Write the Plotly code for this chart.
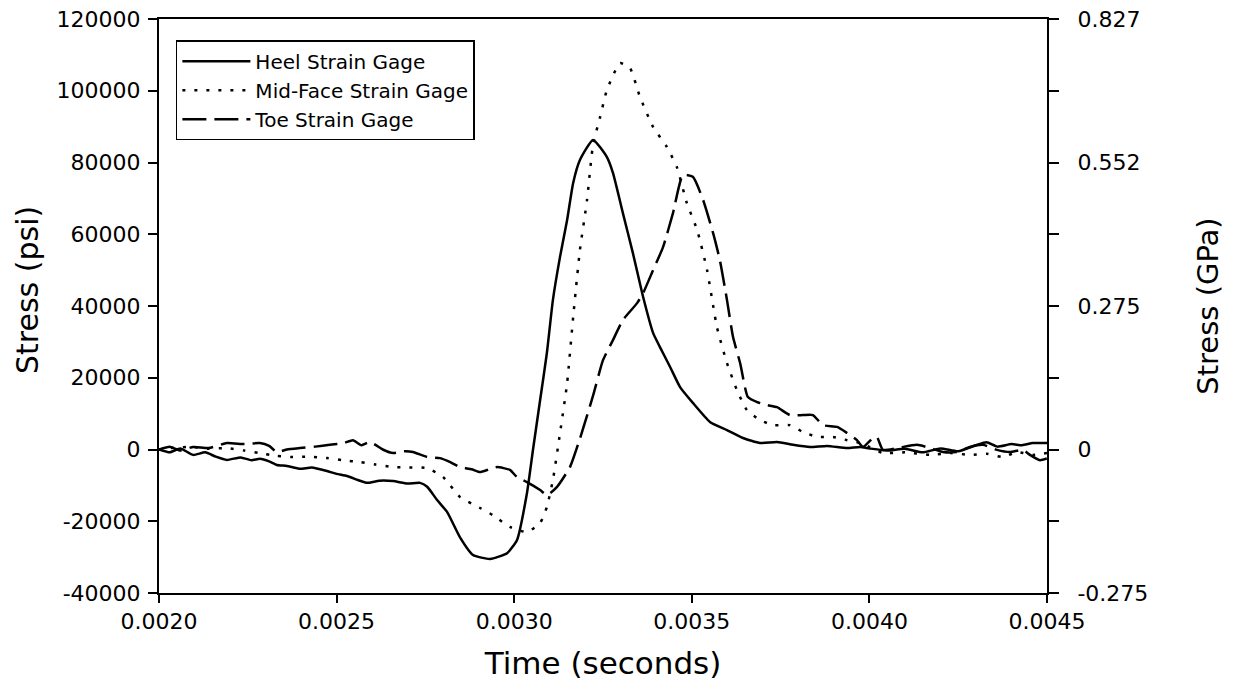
import plotly.graph_objects as go

# ---------------- data (time in seconds, stress in psi) ----------------
heel_t = [0.002000, 0.002030, 0.002060, 0.002096, 0.002130, 0.002160, 0.002191, 0.002230,
          0.002260, 0.002284, 0.002310, 0.002332, 0.002360, 0.002397, 0.002430, 0.002473,
          0.002500, 0.002529, 0.002560, 0.002586, 0.002620, 0.002659, 0.002700, 0.002735,
          0.002755, 0.002783, 0.002811, 0.002847, 0.002884, 0.002932, 0.002980, 0.003008,
          0.003036, 0.003053, 0.003073, 0.003092, 0.003109, 0.003129, 0.003149, 0.003166,
          0.003185, 0.003222, 0.003261, 0.003278, 0.003306, 0.003334, 0.003363, 0.003391,
          0.003410, 0.003439, 0.003467, 0.003503, 0.003551, 0.003599, 0.003644, 0.003692,
          0.003740, 0.003785, 0.003833, 0.003881, 0.003937, 0.003974, 0.004000, 0.004050,
          0.004100, 0.004150, 0.004200, 0.004250, 0.004300, 0.004330, 0.004360, 0.004400,
          0.004430, 0.004460, 0.004500]
heel_psi = [0, -800, 300, -1500, -800, -2000, -2900, -2200,
            -3000, -2600, -3300, -4300, -4600, -5400, -5000, -6000,
            -6800, -7400, -8500, -9300, -8700, -8800, -9500, -9300,
            -10400, -14100, -17400, -24400, -29400, -30500, -28900, -25200,
            -12100, 0, 13800, 26900, 41700, 53700, 64000, 74300,
            80700, 86300, 81500, 77100, 65900, 54800, 42500, 32500,
            28600, 23000, 17400, 13000, 7700, 5400, 3200, 1800,
            2100, 1300, 700, 1000, 400, 700, 300, -300,
            200, -800, 300, -500, 1200, 2000, 800, 1500,
            1200, 1800, 1800]

mid_t = [0.002000, 0.002040, 0.002096, 0.002140, 0.002191, 0.002240, 0.002284, 0.002330,
         0.002377, 0.002420, 0.002473, 0.002520, 0.002566, 0.002610, 0.002659, 0.002700,
         0.002755, 0.002800, 0.002847, 0.002904, 0.002940, 0.002988, 0.003036, 0.003073,
         0.003092, 0.003109, 0.003129, 0.003149, 0.003166, 0.003185, 0.003205, 0.003222,
         0.003242, 0.003261, 0.003298, 0.003326, 0.003354, 0.003391, 0.003430, 0.003458,
         0.003486, 0.003515, 0.003543, 0.003571, 0.003599, 0.003627, 0.003655, 0.003692,
         0.003729, 0.003776, 0.003813, 0.003852, 0.003898, 0.003937, 0.003974, 0.004000,
         0.004038, 0.004100, 0.004171, 0.004230, 0.004283, 0.004330, 0.004376, 0.004416,
         0.004460, 0.004500]
mid_psi = [0, 500, 700, 200, 400, -300, -1000, -1800,
           -2100, -2000, -2400, -3000, -3500, -4200, -4900, -5000,
           -5200, -7700, -13200, -16300, -18300, -21600, -23000, -20500,
           -16000, -8500, 4600, 18500, 36900, 55600, 69500, 85000,
           92700, 100200, 107700, 106300, 98300, 89900, 84300, 78700,
           68700, 61200, 50000, 34000, 24100, 16600, 11000, 8200,
           6800, 6800, 4900, 3500, 3500, 2600, 1800, 700,
           -1000, -800, -1500, -1000, -1500, -1200, -2100, -700,
           -1500, -1000]

toe_t = [0.002000, 0.002030, 0.002060, 0.002096, 0.002140, 0.002191, 0.002240, 0.002284,
         0.002310, 0.002332, 0.002360, 0.002397, 0.002440, 0.002481, 0.002520, 0.002546,
         0.002570, 0.002594, 0.002630, 0.002659, 0.002690, 0.002715, 0.002755, 0.002791,
         0.002820, 0.002847, 0.002880, 0.002904, 0.002930, 0.002952, 0.002988, 0.003008,
         0.003036, 0.003073, 0.003092, 0.003120, 0.003157, 0.003185, 0.003222, 0.003250,
         0.003278, 0.003306, 0.003346, 0.003363, 0.003391, 0.003419, 0.003447, 0.003475,
         0.003503, 0.003532, 0.003560, 0.003579, 0.003599, 0.003616, 0.003636, 0.003658,
         0.003684, 0.003712, 0.003740, 0.003776, 0.003813, 0.003841, 0.003869, 0.003909,
         0.003937, 0.003965, 0.003982, 0.004010, 0.004021, 0.004038, 0.004078, 0.004134,
         0.004171, 0.004207, 0.004247, 0.004283, 0.004320, 0.004359, 0.004396, 0.004432,
         0.004452, 0.004480, 0.004500]
toe_psi = [0, 800, -300, 700, 400, 1800, 1500, 1800,
           1000, -700, 0, 400, 800, 1300, 1800, 2600,
           1200, 2100, 0, -1000, -500, -700, -2100, -2400,
           -3500, -4900, -5500, -6300, -5500, -4900, -5700, -7700,
           -9100, -11300, -12700, -10500, -4900, 3000, 15000, 24900,
           30500, 36100, 40800, 43600, 50000, 56400, 65900, 76500,
           76000, 69500, 60300, 52800, 41700, 31400, 24100, 14600,
           13200, 12400, 11800, 9600, 9600, 9600, 6800, 6300,
           4600, 2600, 700, 3200, 3500, -100, 400, 1300,
           400, -700, -700, 700, 1300, -100, -700, -100,
           -1500, -3000, -2500]

series_names = ["Heel Strain Gage", "Mid-Face Strain Gage", "Toe Strain Gage"]

x_ticks = [0.0020, 0.0025, 0.0030, 0.0035, 0.0040, 0.0045]
x_tick_labels = ["0.0020", "0.0025", "0.0030", "0.0035", "0.0040", "0.0045"]
psi_ticks = [-40000, -20000, 0, 20000, 40000, 60000, 80000, 100000, 120000]
psi_tick_labels = ["-40000", "-20000", "0", "20000", "40000", "60000", "80000", "100000", "120000"]
gpa_tick_labels = ["-0.275", "", "0", "", "0.275", "", "0.552", "", "0.827"]

# ---------------- figure ----------------
FONT = "DejaVu Sans"
LINE = dict(shape="spline", smoothing=0.5)
fig = go.Figure()
fig.add_trace(go.Scatter(x=heel_t, y=heel_psi, mode="lines", name=series_names[0],
                         line=dict(color="black", width=2.5, **LINE)))
fig.add_trace(go.Scatter(x=mid_t, y=mid_psi, mode="lines", name=series_names[1],
                         line=dict(color="black", width=2.5, dash="3px,9px", **LINE)))
fig.add_trace(go.Scatter(x=toe_t, y=toe_psi, mode="lines", name=series_names[2],
                         line=dict(color="black", width=2.5, dash="24px,8px", **LINE)))
# invisible trace to anchor the right-hand (GPa) axis
fig.add_trace(go.Scatter(x=heel_t, y=heel_psi, mode="lines", yaxis="y2", showlegend=False,
                         hoverinfo="skip", line=dict(color="rgba(0,0,0,0)", width=0)))

fig.update_layout(
    width=1234, height=682,
    margin=dict(l=159, r=187, t=19, b=89, autoexpand=False),
    paper_bgcolor="white", plot_bgcolor="white",
    font=dict(family=FONT, color="black", size=22),
    legend=dict(x=0.019, y=0.963, xanchor="left", yanchor="top",
                bordercolor="black", borderwidth=1.5, bgcolor="white",
                font=dict(family=FONT, size=20, color="black"),
                itemwidth=68, tracegroupgap=0),
    xaxis=dict(range=[0.0020, 0.0045], tickvals=x_ticks, ticktext=x_tick_labels,
               ticks="outside", ticklen=8, tickwidth=2, tickcolor="black",
               showline=True, linewidth=2, linecolor="black", mirror=True,
               showgrid=False, zeroline=False, automargin=False,
               tickfont=dict(size=22),
               title=dict(text="Time (seconds)", font=dict(size=31), standoff=19)),
    yaxis=dict(range=[-40000, 120000], tickvals=psi_ticks, ticktext=psi_tick_labels,
               ticks="outside", ticklen=9, tickwidth=2, tickcolor="black",
               showline=True, linewidth=2, linecolor="black", automargin=False,
               showgrid=False, zeroline=False, ticklabelstandoff=3,
               tickfont=dict(size=22)),
    yaxis2=dict(range=[-40000, 120000], overlaying="y", side="right",
                tickvals=psi_ticks, ticktext=gpa_tick_labels,
                ticks="outside", ticklen=10, tickwidth=2, tickcolor="black",
                showline=True, linewidth=2, linecolor="black", automargin=False,
                showgrid=False, zeroline=False, ticklabelstandoff=14,
                tickfont=dict(size=22),
                title=dict(text="Stress (GPa)", font=dict(size=29), standoff=50)),
    annotations=[dict(text="Stress (psi)", xref="paper", yref="paper",
                      x=-0.1475, y=0.528, xanchor="center", yanchor="middle",
                      textangle=-90, showarrow=False, font=dict(size=30))],
)

fig.write_html("out.html")
